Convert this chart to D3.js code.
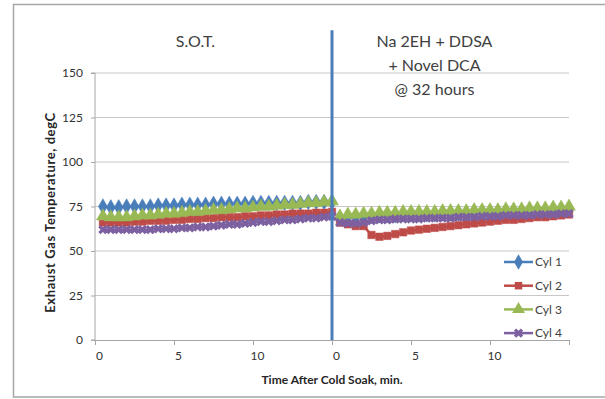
<!DOCTYPE html>
<html>
<head>
<meta charset="utf-8">
<script src="https://cdn.jsdelivr.net/npm/d3@7"></script>
<style>
  body { margin: 0; background: #fff; }
  text { font-family: Lato, "Open Sans", sans-serif; fill: #404040; }
  .tick text { font-size: 12px; fill: #333; }
  .axis-title { font-size: 12px; font-weight: bold; fill: #262626; }
  .panel-title { font-size: 16px; fill: #404040; }
</style>
</head>
<body>
<div id="chart"></div>
<script>
// minutes after cold soak, each panel
const minutes = [0.5, 1, 1.5, 2, 2.5, 3, 3.5, 4, 4.5, 5, 5.5, 6, 6.5, 7, 7.5,
                 8, 8.5, 9, 9.5, 10, 10.5, 11, 11.5, 12, 12.5, 13, 13.5, 14, 14.5, 15];

// S.O.T. panel
const cyl1Sot = [75,74.5,74.5,75,75,75,75,75.5,75.5,75.5,76,76,76,76,76.5,76.5,76.5,76.5,76.5,77,77,77,77,77,77,77,77.5,77.5,77.5,77.5];
const cyl2Sot = [66,66,66,66,66.5,66.5,67,67,67,67.5,67.5,68,68,68.5,68.5,69,69,69,69.5,69.5,70,70,70.5,70.5,71,71,71,71.5,71.5,72];
const cyl3Sot = [69.5,69,69,69,69.5,70,70,70.5,71,71,71.5,72,72,72.5,73,73,73.5,74,74,74.5,75,75,75.5,76,76,76.5,77,77,77.5,78];
const cyl4Sot = [62,62,62,62,62,62,62,62.5,62.5,62.5,63,63,63.5,63.5,64,64.5,65,65,65.5,66,66.5,66.5,67,67.5,67.5,68,68.5,68.5,69,69.5];

// Na 2EH + DDSA + Novel DCA panel
const cyl1Dca = [68,69,69,69.5,69.5,70,70,70,70.5,70.5,70.5,70.5,70.5,71,71,71,71,71.5,71.5,71.5,71.5,72,72,72,72.5,72.5,72.5,73,73,73.5];
const cyl2Dca = [66,65,64,64,59,58,58.5,59.5,60.5,61.5,62,62.5,63,63.5,64,64.5,65,65.5,66,66.5,67,67.5,67.5,68,68.5,69,69,69.5,70,70.5];
const cyl3Dca = [69.5,70.5,70.5,71,71,71.5,71.5,71.5,72,72,72,72,72,72.5,72.5,72.5,72.5,73,73,73,73,73.5,73.5,73.5,74,74,74,74.5,74.5,75];
const cyl4Dca = [66,65.5,65.5,66,67,67.5,67.5,68,68,68,68,68.5,68.5,68.5,68.5,69,69,69,69.5,69.5,69.5,70,70,70,70,70.5,70.5,70.5,71,71];

const seriesNames = ["Cyl 1", "Cyl 2", "Cyl 3", "Cyl 4"];
const sotValues = [cyl1Sot, cyl2Sot, cyl3Sot, cyl4Sot];
const dcaValues = [cyl1Dca, cyl2Dca, cyl3Dca, cyl4Dca];
const colors = ["#4a7ebb", "#be4b48", "#98b954", "#7d60a0"];
const symbols = [d3.symbolDiamond, d3.symbolSquare, d3.symbolTriangle, d3.symbolCross];

const panelLength = 15;   // minutes per panel
const yTicks = [0, 25, 50, 75, 100, 125, 150];
const xTicks = [0, 5, 10, 15, 20, 25, 30];
const xTickLabels = ["0", "5", "10", "0", "5", "10", ""];
const dividerTop = 174;

const W = 605, H = 399;
const margin = {top: 73, right: 36, bottom: 59, left: 95};
const width = W - margin.left - margin.right;
const height = H - margin.top - margin.bottom;

const root = d3.select("#chart").append("svg")
    .attr("width", W)
    .attr("height", H);

root.append("rect")
    .attr("x", 13.5).attr("y", 4.5)
    .attr("width", 600).attr("height", 392.5)
    .attr("fill", "none")
    .attr("stroke", "#a6a6a6")
    .attr("stroke-width", 1.5);

const svg = root.append("g")
    .attr("transform", `translate(${margin.left}, ${margin.top})`);

const x = d3.scaleLinear().domain([0, 2 * panelLength]).range([0, width]);
const y = d3.scaleLinear().domain([0, 150]).range([height, 0]);

// gridlines
svg.append("g")
    .selectAll("line")
    .data(yTicks.filter(d => d > 0))
    .enter()
    .append("line")
    .attr("x1", 0).attr("x2", width)
    .attr("y1", d => y(d)).attr("y2", d => y(d))
    .attr("stroke", "#c8c8c8")
    .attr("stroke-width", 1);

svg.append("g")
    .attr("class", "axis axis-y")
    .call(d3.axisLeft(y).tickValues(yTicks).tickSize(4).tickPadding(8))
    .call(g => g.selectAll("path, line").attr("stroke", "#a6a6a6"))
    .call(g => g.select(".domain").attr("d", `M-4,${height}H0V0H-4`));

svg.append("g")
    .attr("class", "axis axis-x")
    .attr("transform", `translate(0, ${height})`)
    .call(d3.axisBottom(x).tickValues(xTicks).tickSize(5).tickPadding(6)
        .tickFormat((d, i) => xTickLabels[i]))
    .call(g => g.selectAll("path, line").attr("stroke", "#a6a6a6"))
    .call(g => g.selectAll(".tick text").attr("dx", 4));

const line = d3.line()
    .x(d => x(d.t))
    .y(d => y(d.v));

const markerSizes = [70, 56, 72, 55];

seriesNames.forEach((name, i) => {
    const parts = [
        minutes.map((t, j) => ({t: t, v: sotValues[i][j]})),
        minutes.map((t, j) => ({t: t + panelLength, v: dcaValues[i][j]}))
    ];
    const g = svg.append("g").attr("class", "series");
    parts.forEach(pts => {
        g.append("path")
            .datum(pts)
            .attr("d", line)
            .attr("fill", "none")
            .attr("stroke", colors[i])
            .attr("stroke-width", 2.5);
        g.selectAll(null)
            .data(pts)
            .enter()
            .append("path")
            .attr("transform", d => `translate(${x(d.t)}, ${y(d.v)})` + (i === 3 ? " rotate(45)" : ""))
            .attr("d", d3.symbol().type(symbols[i]).size(markerSizes[i]))
            .attr("fill", colors[i])
            .attr("stroke", i === 3 ? "none" : colors[i])
            .attr("stroke-width", 0.5);
    });
});

// divider between the two runs
svg.append("line")
    .attr("x1", x(panelLength)).attr("x2", x(panelLength))
    .attr("y1", y(0)).attr("y2", y(dividerTop))
    .attr("stroke", "#4a7ebb")
    .attr("stroke-width", 3);

// legend
const legend = svg.append("g")
    .attr("transform", `translate(${409}, ${189})`);
seriesNames.forEach((name, i) => {
    const item = legend.append("g").attr("transform", `translate(0, ${i * 23.7})`);
    item.append("line")
        .attr("x1", 0).attr("x2", 29)
        .attr("stroke", colors[i])
        .attr("stroke-width", 2.5);
    item.append("path")
        .attr("transform", "translate(14.5, 0)" + (i === 3 ? " rotate(45)" : ""))
        .attr("d", d3.symbol().type(symbols[i]).size(markerSizes[i]))
        .attr("fill", colors[i]);
    item.append("text")
        .attr("x", 31)
        .attr("dy", "0.35em")
        .style("font-size", "12px")
        .text(name);
});

// panel titles
svg.append("text")
    .attr("class", "panel-title")
    .attr("x", x(panelLength / 2) - 18)
    .attr("y", -26)
    .attr("text-anchor", "middle")
    .text("S.O.T.");

const rightTitle = ["Na 2EH + DDSA", "+ Novel DCA", "@ 32 hours"];
svg.append("g")
    .selectAll("text")
    .data(rightTitle)
    .enter()
    .append("text")
    .attr("class", "panel-title")
    .attr("x", x(1.5 * panelLength) - 16)
    .attr("y", (d, i) => -26 + i * 24)
    .attr("text-anchor", "middle")
    .text(d => d);

// axis titles
svg.append("text")
    .attr("class", "axis-title")
    .attr("transform", "rotate(-90)")
    .attr("x", -(height / 2) - 6)
    .attr("y", -45)
    .attr("dy", "0.35em")
    .attr("text-anchor", "middle")
    .style("font-size", "13px")
    .style("letter-spacing", "0.6px")
    .text("Exhaust Gas Temperature, degC");

svg.append("text")
    .attr("class", "axis-title")
    .attr("x", x(panelLength))
    .attr("y", height + 44)
    .attr("text-anchor", "middle")
    .text("Time After Cold Soak, min.");
</script>
</body>
</html>
